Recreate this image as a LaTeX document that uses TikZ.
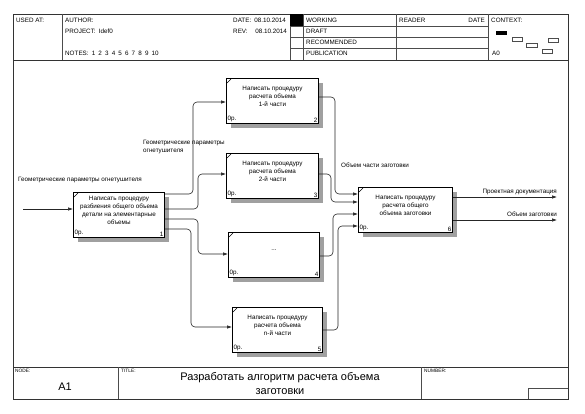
\documentclass[tikz,border=0pt]{standalone}
\usepackage{fontspec}
\setmainfont{Liberation Sans}
\usetikzlibrary{arrows.meta,calc}
\definecolor{shadowgray}{RGB}{160,160,160}
\begin{document}
\begin{tikzpicture}[x=1pt,y=-1pt,
  frame/.style={draw=black!80,line width=0.7pt},
  thin/.style={draw=black!70,line width=0.5pt},
  hdr/.style={inner sep=0pt,anchor=west,font=\fontsize{6.3}{7}\selectfont},
  small/.style={inner sep=0pt,anchor=north west,font=\fontsize{4.8}{5.5}\selectfont},
  procbox/.style={draw=black,line width=1pt,fill=white,inner sep=0pt,anchor=north west,minimum height=45pt},
  ptext/.style={align=center,inner sep=0pt,font=\fontsize{6.3}{8}\selectfont},
  corner/.style={inner sep=1.5pt,font=\fontsize{6.3}{7}\selectfont},
  conn/.style={draw=black!85,line width=0.6pt,rounded corners=4pt,-{Latex[length=5pt,width=3.5pt]}},
  lbl/.style={inner sep=0pt,anchor=west,align=left,font=\fontsize{6.3}{8}\selectfont}]
\useasboundingbox (0,0) rectangle (585,414);
% header
\draw[frame] (13,14) rectangle (568,60);
\draw[thin] (62,14) -- (62,60) (290,14) -- (290,60) (303,14) -- (303,60)
  (396,14) -- (396,60) (488,14) -- (488,60)
  (290,26) -- (488,26) (290,37) -- (488,37) (290,48) -- (488,48);
\fill[black] (290,14) rectangle (303,26);
\node[hdr] (usedat) at (16,20) {USED AT:};
\node[hdr] (author) at (65,20) {AUTHOR:};
\node[hdr] (project) at (65,31) {PROJECT:\enspace Idef0};
\node[hdr] (notes) at (65,53) {NOTES:\enspace 1\enspace 2\enspace 3\enspace 4\enspace 5\enspace 6\enspace 7\enspace 8\enspace 9\enspace 10};
\node[hdr] (date) at (233,20) {DATE:\enspace 08.10.2014};
\node[hdr] (rev) at (233,31) {REV:};
\node[hdr,anchor=east] (revd) at (287,31) {08.10.2014};
\node[hdr] (working) at (306,20) {WORKING};
\node[hdr] (draft) at (306,31) {DRAFT};
\node[hdr] (recom) at (306,42) {RECOMMENDED};
\node[hdr] (publ) at (306,53) {PUBLICATION};
\node[hdr] (reader) at (399,20) {READER};
\node[hdr,anchor=east] (rdate) at (485,20) {DATE};
\node[hdr] (context) at (491,20) {CONTEXT:};
\node[hdr] (a0) at (492,53) {A0};
\fill[black] (496,31) rectangle (507,35);
\draw[thin] (512,37) rectangle (522,41) (526,43) rectangle (537,47)
  (548,38) rectangle (558,42) (542,49) rectangle (552,53);
% side frame
\draw[frame] (13,60) -- (13,367) (568,60) -- (568,367);
% footer
\draw[frame] (13,367) rectangle (568,399);
\draw[thin] (118,367) -- (118,399) (421,367) -- (421,399);
\draw[thin] (528,399) -- (528,388) -- (568,388);
\node[small] (nodel) at (15,369) {NODE:};
\node[small] (titlel) at (121,369) {TITLE:};
\node[small] (numl) at (424,369) {NUMBER:};
\node[inner sep=0pt,font=\fontsize{11}{13}\selectfont] (a1) at (65,387) {A1};
\node[inner sep=0pt,align=center,font=\fontsize{11}{14}\selectfont] (title) at (280,384)
  {Разработать алгоритм расчета объема\\заготовки};
% box shadows (drawn directly)
\fill[shadowgray] (78,197) rectangle (169,242);
\fill[shadowgray] (231,83) rectangle (323,128);
\fill[shadowgray] (231,158) rectangle (323,203);
\fill[shadowgray] (233,237) rectangle (324,282);
\fill[shadowgray] (237,312) rectangle (327,357);
\fill[shadowgray] (363,192) rectangle (457,237);
% boxes
\node[procbox,minimum width=91pt] (b1) at (73,192) {};
\node[procbox,minimum width=92pt] (b2) at (226,78) {};
\node[procbox,minimum width=92pt] (b3) at (226,153) {};
\node[procbox,minimum width=91pt] (b4) at (228,232) {};
\node[procbox,minimum width=90pt] (b5) at (232,307) {};
\node[procbox,minimum width=94pt] (b6) at (358,187) {};
\foreach \bx in {b1,b2,b3,b4,b5,b6}{
  \draw[black,line width=0.6pt] ($(\bx.north west)+(1,5)$) -- ($(\bx.north west)+(5,1)$);
  \node[corner,anchor=south west] (\bx op) at (\bx.south west) {0р.};
}
\node[ptext] (t1) at ($(b1.center)+(0,-5)$) {Написать процедуру\\разбиения общего объема\\детали на элементарные\\объемы};
\node[ptext] (t2) at ($(b2.center)+(0,-5)$) {Написать процедуру\\расчета объема\\1-й части};
\node[ptext] (t3) at ($(b3.center)+(0,-5)$) {Написать процедуру\\расчета объема\\2-й части};
\node[ptext] (t4) at ($(b4.center)+(0,-5)$) {...};
\node[ptext] (t5) at ($(b5.center)+(0,-5)$) {Написать процедуру\\расчета объема\\n-й части};
\node[ptext] (t6) at ($(b6.center)+(0,-5)$) {Написать процедуру\\расчета общего\\объема заготовки};
\node[corner,anchor=south east] (n1) at (b1.south east) {1};
\node[corner,anchor=south east] (n2) at (b2.south east) {2};
\node[corner,anchor=south east] (n3) at (b3.south east) {3};
\node[corner,anchor=south east] (n4) at (b4.south east) {4};
\node[corner,anchor=south east] (n5) at (b5.south east) {5};
\node[corner,anchor=south east] (n6) at (b6.south east) {6};
% connectors
\coordinate (in1) at (23,209);
\coordinate (out1) at (557,197);
\coordinate (out2) at (557,220);
\draw[conn] (in1) -- (b1.west |- in1);
\draw[conn] (b1.east |- 0,194) -- (193,194) -- (193,102) -- (b2.west |- 0,102);
\draw[conn] (b1.east |- 0,209) -- (198,209) -- (198,174) -- (b3.west |- 0,174);
\draw[conn] (b1.east |- 0,219) -- (198,219) -- (198,254) -- (b4.west |- 0,254);
\draw[conn] (b1.east |- 0,229) -- (191,229) -- (191,327) -- (b5.west |- 0,327);
\draw[conn] (b2.east |- 0,97) -- (335,97) -- (335,194) -- (b6.west |- 0,194);
\draw[conn] (b3.east |- 0,174) -- (331,174) -- (331,202) -- (b6.west |- 0,202);
\draw[conn] (b4.east |- 0,256) -- (333,256) -- (333,214) -- (b6.west |- 0,214);
\draw[conn] (b5.east |- 0,330) -- (338,330) -- (338,226) -- (b6.west |- 0,226);
\draw[conn] (b6.east |- out1) -- (out1);
\draw[conn] (b6.east |- out2) -- (out2);
% labels
\node[lbl] (l1) at (18,180) {Геометрические параметры огнетушителя};
\node[lbl] (l2) at (143,147) {Геометрические параметры\\огнетушителя};
\node[lbl] (l3) at (341,165) {Объем части заготовки};
\node[lbl,anchor=east] (l4) at (557,192) {Проектная документация};
\node[lbl,anchor=east] (l5) at (557,214) {Объем заготовки};
\end{tikzpicture}
\end{document}
